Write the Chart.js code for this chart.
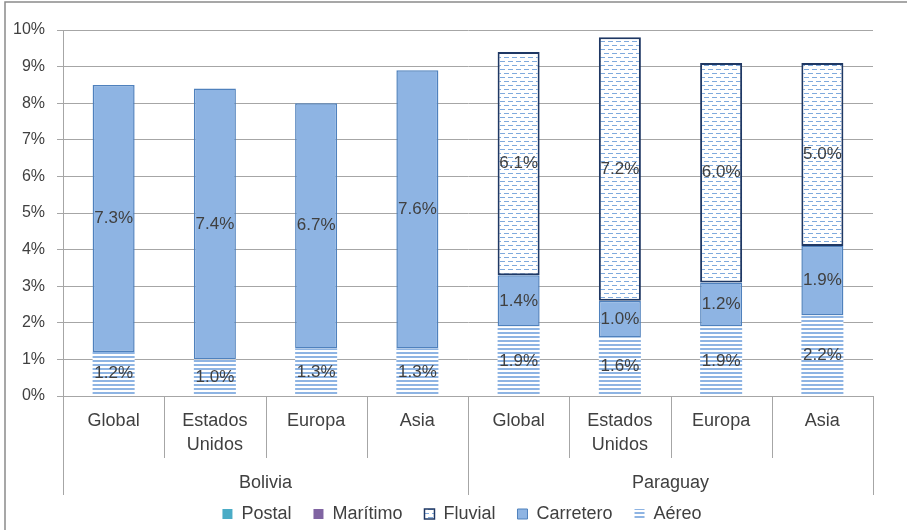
<!DOCTYPE html>
<html><head><meta charset="utf-8">
<script src="https://cdn.jsdelivr.net/npm/chart.js@4.4.0/dist/chart.umd.min.js"></script>
<style>html,body{margin:0;padding:0;background:#fff}#wrap{width:907px;height:530px;position:relative}</style>
</head><body><div id="wrap"><canvas id="c" width="907" height="530"></canvas></div>
<script>
// ---- data ----
const categories = [['Global'],['Estados','Unidos'],['Europa'],['Asia'],['Global'],['Estados','Unidos'],['Europa'],['Asia']];
const groups = ['Bolivia','Paraguay'];
const groupSize = 4;
const postal    = [0,0,0,0,0,0,0,0];
const maritimo  = [0,0,0,0,0,0,0,0];
const fluvial   = [0,0,0,0,6.1,7.2,6.0,5.0];
const carretero = [7.3,7.4,6.7,7.6,1.4,1.0,1.2,1.9];
const aereo     = [1.2,1.0,1.3,1.3,1.9,1.6,1.9,2.2];
const yMin = 0, yMax = 10, yStep = 1;

// ---- patterns ----
function horizPattern(){
  const c=document.createElement('canvas');c.width=4;c.height=4;
  const x=c.getContext('2d');x.fillStyle='#fff';x.fillRect(0,0,4,4);
  x.fillStyle='#8EB4E3';x.fillRect(0,0,4,2);
  return x.createPattern(c,'repeat');
}
function dashPattern(){
  const c=document.createElement('canvas');c.width=8;c.height=8;
  const x=c.getContext('2d');x.fillStyle='#fff';x.fillRect(0,0,8,8);
  x.fillStyle='#7FAADD';x.fillRect(0,1,5,1);x.fillRect(4,5,5,1);x.fillRect(0,5,1,1);
  return x.createPattern(c,'repeat');
}
const FONT = "'Liberation Sans', Arial, sans-serif";
const TXT = '#404040';

const chartBorder = {
  id:'chartBorder',
  beforeDraw(chart){
    const ctx=chart.ctx;ctx.save();
    ctx.fillStyle='#fff';ctx.fillRect(0,0,chart.width,chart.height);
    ctx.strokeStyle='#8a8a8a';ctx.lineWidth=1.5;
    ctx.strokeRect(5,2,chart.width+10,chart.height+10);
    ctx.restore();
  }
};
// shift the legend so it is centred under the plot like the reference
const legendShift = {
  id:'legendShift',
  afterLayout(chart){
    const lg=chart.legend; if(!lg) return;
    lg.left+=25.5; lg.right+=25.5; lg.top+=3; lg.bottom+=3;
  }
};
const multiLevel = {
  id:'multiLevel',
  afterDraw(chart){
    const ctx=chart.ctx, xs=chart.scales.x, area=chart.chartArea;
    const n=categories.length;
    const w=(xs.getPixelForValue(1)-xs.getPixelForValue(0));
    ctx.save();
    ctx.strokeStyle='#a6a6a6';ctx.lineWidth=1;
    for(let i=0;i<=n;i++){
      const x=Math.round(xs.getPixelForValue(0)-w/2+i*w)+0.5;
      const isGroup=(i%groupSize===0);
      ctx.beginPath();ctx.moveTo(x,area.bottom);ctx.lineTo(x,area.bottom+(isGroup?99:62));ctx.stroke();
    }
    ctx.fillStyle=TXT;ctx.font='18px '+FONT;ctx.textAlign='center';ctx.textBaseline='middle';
    groups.forEach((g,gi)=>{
      const x0=xs.getPixelForValue(gi*groupSize)-w/2;
      const x1=x0+groupSize*w;
      ctx.fillText(g,(x0+x1)/2,area.bottom+87);
    });
    ctx.restore();
  }
};
const dataLabels = {
  id:'dataLabels',
  afterDatasetsDraw(chart){
    const ctx=chart.ctx;ctx.save();
    ctx.fillStyle=TXT;ctx.font='17px '+FONT;ctx.textAlign='center';ctx.textBaseline='middle';
    chart.data.datasets.forEach((ds,di)=>{
      const meta=chart.getDatasetMeta(di);
      meta.data.forEach((el,i)=>{
        const v=ds.data[i];
        if(!v) return;
        ctx.fillText(v.toFixed(1)+'%',el.x,(el.y+el.base)/2);
      });
    });
    ctx.restore();
  }
};

const legendStroke = {'Carretero':['#4F81BD',1],'Fluvial':['#1F3864',1.5]};
new Chart(document.getElementById('c'),{
  type:'bar',
  data:{
    labels:categories,
    datasets:[
      {label:'Aéreo',data:aereo,backgroundColor:horizPattern(),borderWidth:0},
      {label:'Carretero',data:carretero,backgroundColor:'#8EB4E3',borderColor:'#4F81BD',borderWidth:c=>c.raw>0?1.5:0,borderSkipped:false},
      {label:'Fluvial',data:fluvial,backgroundColor:dashPattern(),borderColor:'#1F3864',borderWidth:c=>c.raw>0?2:0,borderSkipped:false},
      {label:'Marítimo',data:maritimo,backgroundColor:'#8064A2',borderWidth:0},
      {label:'Postal',data:postal,backgroundColor:'#4BACC6',borderWidth:0}
    ]
  },
  options:{
    responsive:false,animation:false,
    devicePixelRatio:1,
    layout:{padding:{top:30,right:34,bottom:0,left:0}},
    datasets:{bar:{categoryPercentage:1,barPercentage:0.415}},
    scales:{
      x:{stacked:true,
        grid:{display:false},
        border:{display:true,color:'#a6a6a6'},
        ticks:{color:TXT,font:{size:18,family:FONT,lineHeight:1.35},padding:5,maxRotation:0,autoSkip:false},
        afterFit(s){const lg=s.chart.legend;const h=(lg&&lg.height)?lg.height:40;s.height=530-h-396;}
      },
      y:{stacked:true,min:yMin,max:yMax,
        ticks:{stepSize:yStep,color:TXT,font:{size:16,family:FONT},padding:12,callback:v=>v+'%'},
        grid:{color:'#a6a6a6',tickLength:6},
        border:{display:true,color:'#a6a6a6'},
        afterFit(s){s.width=63;}
      }
    },
    plugins:{
      legend:{position:'bottom',reverse:true,
        labels:{color:TXT,font:{size:18,family:FONT},boxWidth:10,boxHeight:10,padding:22,
          generateLabels(chart){
            const items=Chart.defaults.plugins.legend.labels.generateLabels(chart);
            items.forEach(it=>{const s=legendStroke[it.text];
              if(s){it.strokeStyle=s[0];it.lineWidth=s[1];}else{it.lineWidth=0;}});
            return items;
          }}},
      tooltip:{enabled:false}
    }
  },
  plugins:[chartBorder,legendShift,multiLevel,dataLabels]
});
</script></body></html>
